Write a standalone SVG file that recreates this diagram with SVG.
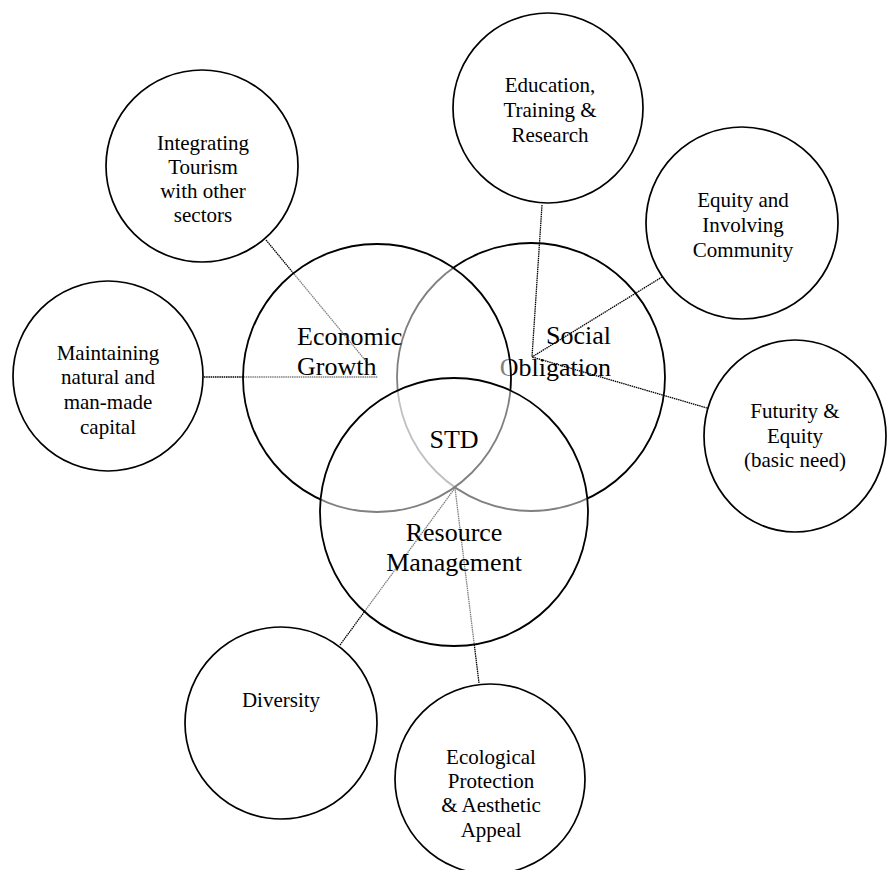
<svg xmlns="http://www.w3.org/2000/svg" width="888" height="870" viewBox="0 0 888 870">
  <style>
    .bg { fill: #ffffff; }
    .core { fill: #ffffff; fill-opacity: 0.5; stroke: #000000; stroke-width: 1.8; }
    .satellite { fill: #ffffff; stroke: #000000; stroke-width: 1.7; }
    .big { font-family: "Liberation Serif", "Times New Roman", serif; font-size: 26px; fill: #000000; }
    .small { font-family: "Liberation Serif", "Times New Roman", serif; font-size: 21px; fill: #000000; text-anchor: middle; }
    .link { stroke: #000000; stroke-width: 1.3; stroke-dasharray: 1.5 0.7; fill: none; }
  </style>

  <rect class="bg" x="0" y="0" width="888" height="870"/>

  <!-- Social obligation sphere (drawn first so the others veil its overlapped parts) -->
  <g id="social-obligation">
    <circle class="core" cx="531" cy="377" r="134"/>
    <text class="big" x="611" y="344" text-anchor="end">Social</text>
    <text class="big" x="611" y="376" text-anchor="end">Obligation</text>
  </g>

  <!-- Links from the spheres to the supporting principles -->
  <g id="connectors">
    <line class="link" x1="266" y1="240" x2="370" y2="366"/>
    <line class="link" x1="204" y1="377" x2="378" y2="377"/>
    <line class="link" x1="542" y1="205" x2="532" y2="357"/>
    <line class="link" x1="662" y1="277" x2="532" y2="357"/>
    <line class="link" x1="707" y1="408" x2="532" y2="357"/>
    <line class="link" x1="340" y1="645" x2="455" y2="488"/>
    <line class="link" x1="479" y1="683" x2="455" y2="488"/>
  </g>

  <!-- Economic growth sphere -->
  <g id="economic-growth">
    <circle class="core" cx="377" cy="378" r="134"/>
    <text class="big" x="297" y="345">Economic</text>
    <text class="big" x="297" y="375">Growth</text>
  </g>

  <!-- Resource management sphere -->
  <g id="resource-management">
    <circle class="core" cx="454" cy="512" r="134"/>
    <text class="big" x="454" y="541" text-anchor="middle">Resource</text>
    <text class="big" x="454" y="571" text-anchor="middle">Management</text>
  </g>

  <!-- Common core of the three spheres -->
  <g id="std">
    <text class="big" x="454" y="448" text-anchor="middle">STD</text>
  </g>

  <g id="integrating-tourism">
    <circle class="satellite" cx="202" cy="166" r="96"/>
    <text class="small" x="203" y="150">Integrating</text>
    <text class="small" x="203" y="174">Tourism</text>
    <text class="small" x="203" y="198">with other</text>
    <text class="small" x="203" y="222">sectors</text>
  </g>

  <g id="education-training-research">
    <circle class="satellite" cx="548" cy="108" r="95"/>
    <text class="small" x="550" y="92">Education,</text>
    <text class="small" x="550" y="117">Training &amp;</text>
    <text class="small" x="550" y="142">Research</text>
  </g>

  <g id="equity-community">
    <circle class="satellite" cx="742" cy="223" r="96"/>
    <text class="small" x="743" y="207">Equity and</text>
    <text class="small" x="743" y="232">Involving</text>
    <text class="small" x="743" y="257">Community</text>
  </g>

  <g id="maintaining-capital">
    <circle class="satellite" cx="108" cy="376" r="95"/>
    <text class="small" x="108" y="360">Maintaining</text>
    <text class="small" x="108" y="384">natural and</text>
    <text class="small" x="108" y="409">man-made</text>
    <text class="small" x="108" y="434">capital</text>
  </g>

  <g id="futurity-equity">
    <ellipse class="satellite" cx="795" cy="436" rx="91" ry="96"/>
    <text class="small" x="795" y="418">Futurity &amp;</text>
    <text class="small" x="795" y="443">Equity</text>
    <text class="small" x="795" y="467">(basic need)</text>
  </g>

  <g id="diversity">
    <circle class="satellite" cx="281" cy="723" r="96"/>
    <text class="small" x="281" y="707">Diversity</text>
  </g>

  <g id="ecological-protection">
    <circle class="satellite" cx="490" cy="779" r="95"/>
    <text class="small" x="491" y="764">Ecological</text>
    <text class="small" x="491" y="788">Protection</text>
    <text class="small" x="491" y="812">&amp; Aesthetic</text>
    <text class="small" x="491" y="837">Appeal</text>
  </g>
</svg>
